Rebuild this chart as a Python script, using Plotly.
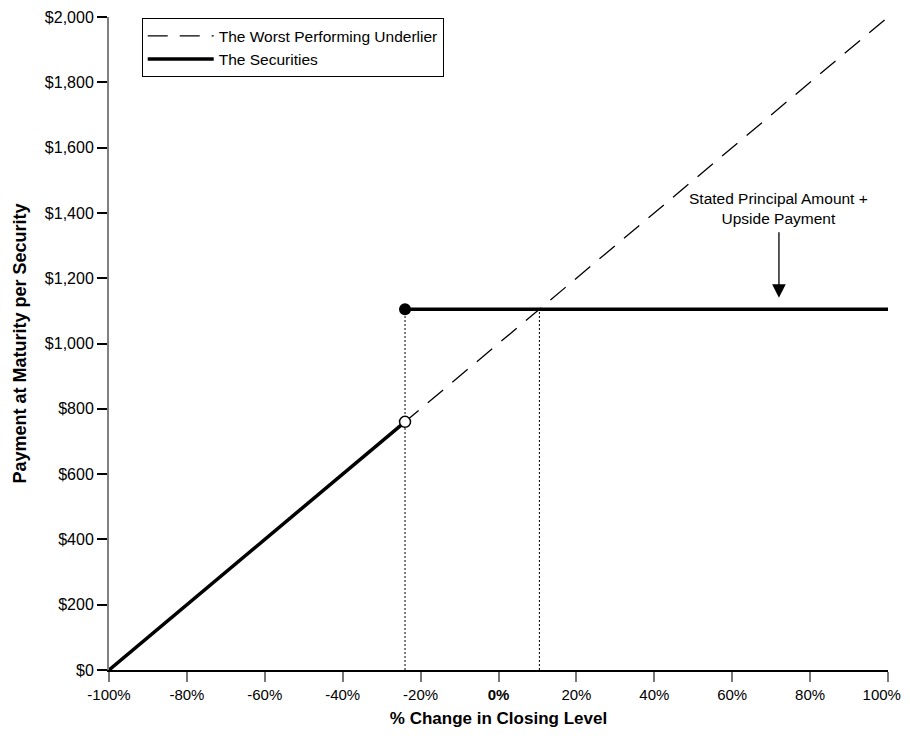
"""Payoff diagram: payment at maturity vs % change in closing level."""

import plotly.graph_objects as go

# underlier payoff (1:1 with the closing level)
underlier_pct = [-100, 100]
underlier_payment = [0, 2000]

# securities payoff
barrier_pct = -24
barrier_payment = 760
cap_payment = 1105
cap_cross_pct = 10.5

secur_pct = [-100, barrier_pct, None, barrier_pct, 100]
secur_payment = [0, barrier_payment, None, cap_payment, cap_payment]

x_ticks = [-100, -80, -60, -40, -20, 0, 20, 40, 60, 80, 100]
# trailing no-break spaces nudge the last label left so it stays on the page
x_labels = ["-100%", "-80%", "-60%", "-40%", "-20%", "<b>0%</b>", "20%", "40%", "60%", "80%",
            "100%\u00a0\u00a0\u00a0"]
y_ticks = [0, 200, 400, 600, 800, 1000, 1200, 1400, 1600, 1800, 2000]
y_labels = ["$0", "$200", "$400", "$600", "$800", "$1,000", "$1,200",
            "$1,400", "$1,600", "$1,800", "$2,000"]

FONT = "Liberation Sans, Arial, sans-serif"

fig = go.Figure()

fig.add_trace(go.Scatter(
    x=underlier_pct, y=underlier_payment, mode="lines",
    name="The Worst Performing Underlier",
    line=dict(color="black", width=1.3, dash="20px,12px"),
))

# dotted guides down to the axis
fig.add_trace(go.Scatter(
    x=[barrier_pct, barrier_pct, None, cap_cross_pct, cap_cross_pct],
    y=[0, cap_payment, None, 0, cap_payment],
    mode="lines", showlegend=False, hoverinfo="skip",
    line=dict(color="black", width=1, dash="2px,2px"),
))

fig.add_trace(go.Scatter(
    x=secur_pct, y=secur_payment, mode="lines",
    name="The Securities",
    line=dict(color="black", width=3.5),
))

fig.add_trace(go.Scatter(
    x=[barrier_pct], y=[cap_payment], mode="markers", showlegend=False,
    marker=dict(color="black", size=12), cliponaxis=False,
))
fig.add_trace(go.Scatter(
    x=[barrier_pct], y=[barrier_payment], mode="markers", showlegend=False,
    marker=dict(color="white", size=11, line=dict(color="black", width=1.5)),
    cliponaxis=False,
))

fig.add_annotation(
    x=72, y=1415, xref="x", yref="y",
    text="Stated Principal Amount +<br>Upside Payment",
    showarrow=False, font=dict(size=15.5, color="black", family=FONT),
)
fig.add_annotation(
    x=72, y=1140, ax=72, ay=1345, xref="x", yref="y", axref="x", ayref="y",
    text="", showarrow=True, arrowhead=2, arrowsize=2.1, arrowwidth=1.3,
    arrowcolor="black",
)

# page body adds an 8px margin on every side, so keep the figure inside the window
fig.update_layout(
    width=902, height=725,
    margin=dict(l=101, r=22, t=9, b=63),
    paper_bgcolor="white", plot_bgcolor="white",
    font=dict(family=FONT, size=15, color="black"),
    legend=dict(
        x=0.042, y=0.998, xanchor="left", yanchor="top",
        bordercolor="black", borderwidth=1, bgcolor="white",
        font=dict(size=15.5), tracegroupgap=0, itemwidth=66,
    ),
    xaxis=dict(
        range=[-100, 100], tickvals=x_ticks, ticktext=x_labels,
        showgrid=False, zeroline=False, automargin=False,
        ticklabeloverflow="allow",
        showline=True, linecolor="black", linewidth=1.5,
        ticks="outside", ticklen=10, tickcolor="#777777", tickwidth=2,
        tickfont=dict(size=15),
        title=dict(text="<b>% Change in Closing Level</b>", font=dict(size=17), standoff=10),
    ),
    yaxis=dict(
        range=[0, 2000], tickvals=y_ticks, ticktext=y_labels,
        showgrid=False, zeroline=False, automargin=False,
        ticklabeloverflow="allow",
        showline=True, linecolor="#808080", linewidth=2,
        ticks="outside", ticklen=10, tickcolor="black", tickwidth=1.5,
        tickfont=dict(size=16),
        title=dict(text="<b>Payment at Maturity per Security</b>", font=dict(size=18), standoff=14),
    ),
)

fig.write_html("out.html")
